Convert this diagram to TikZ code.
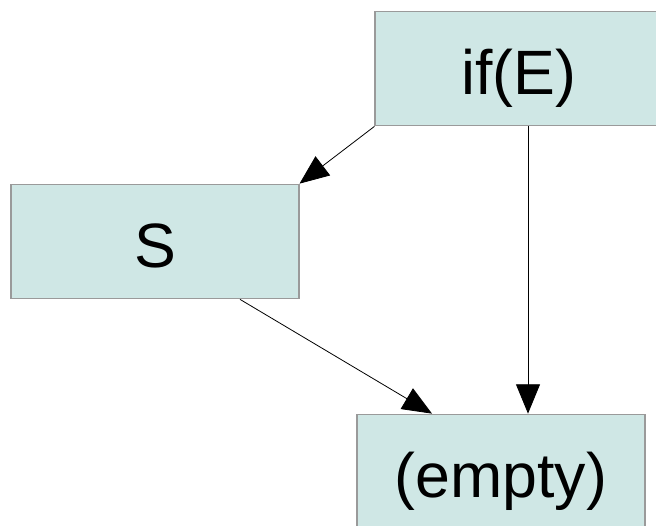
\documentclass[tikz,border=0pt]{standalone}
\usepackage{fontspec}
\setmainfont{Liberation Sans}
\usetikzlibrary{arrows.meta}

\definecolor{boxfill}{HTML}{CFE7E5}
\definecolor{boxline}{HTML}{9A9A9A}

\tikzset{
    block/.style={draw=boxline, fill=boxfill, line width=0.8pt,
        minimum width=216pt, minimum height=86pt, inner sep=0pt,
        text height=39pt, text depth=0pt,
        font=\fontsize{47}{52}\selectfont},
    arr/.style={-{Triangle[length=22pt,width=18pt]}, line width=0.6pt}
}

\begin{document}
\begin{tikzpicture}[x=0.75pt,y=-0.75pt]
    \useasboundingbox (0,0) rectangle (656,525);
    \clip (0,0) rectangle (656,525);

    \node[block] (ifE) at (519,68.5) {if(E)};
    \node[block] (S) at (155,241.5) {S};
    \node[block] (empty) at (501,471.5) {(empty)};

    % branch taken
    \draw[arr] (ifE.south west) -- (S.north east);
    % branch skipped
    \draw[arr] ([xshift=6.75pt]ifE.south) -- ([xshift=6.75pt]ifE.south |- empty.north);
    \draw[arr] ([xshift=63.75pt]S.south) -- ([xshift=-51.75pt]empty.north);

\end{tikzpicture}
\end{document}
